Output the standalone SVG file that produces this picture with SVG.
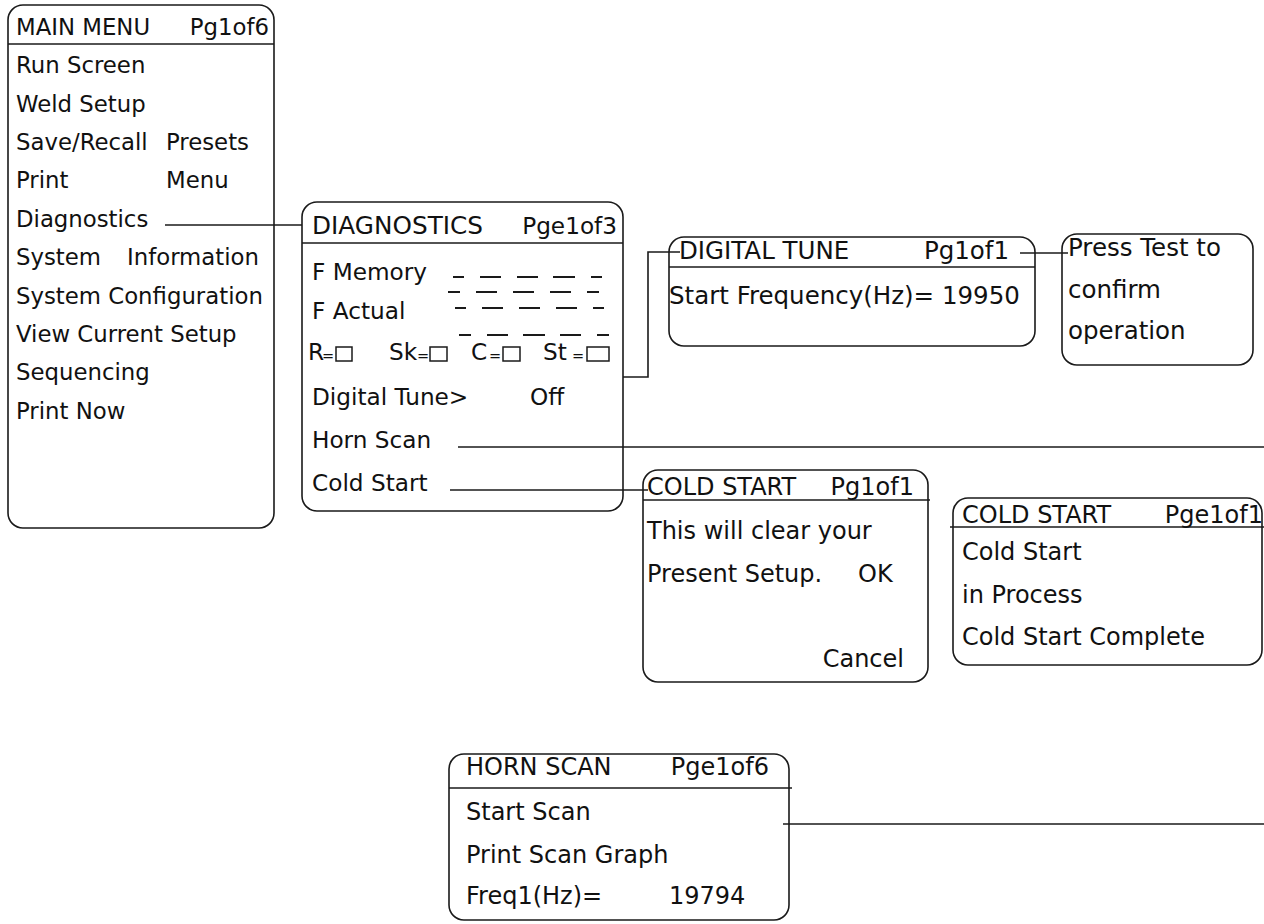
<svg xmlns="http://www.w3.org/2000/svg" width="1264" height="924" viewBox="0 0 1264 924">
<style>
.box{fill:none;stroke:#1a1a1a;stroke-width:1.6}
.sq{fill:none;stroke:#1a1a1a;stroke-width:1.5}
.sep{stroke:#1a1a1a;stroke-width:1.6}
.con{fill:none;stroke:#1a1a1a;stroke-width:1.6}
.dash{stroke:#1a1a1a;stroke-width:2}
text{font-family:"DejaVu Sans","Verdana",sans-serif;fill:#111}
.m{font-size:22.8px}
.d{font-size:23.2px}
.b{font-size:24px}
.dt{font-size:24.5px}
.eq{font-size:14.5px}
.r{text-anchor:end}
</style>
<rect width="1264" height="924" fill="#fff"/>
<g id="connectors">
<line class="con" x1="165" y1="225" x2="302" y2="225"/>
<polyline class="con" points="623,377 648,377 648,252 680,252"/>
<line class="con" x1="1020" y1="253" x2="1068" y2="253"/>
<line class="con" x1="458" y1="447" x2="1264" y2="447"/>
<line class="con" x1="450" y1="490" x2="648" y2="490"/>
<line class="con" x1="783" y1="824" x2="1264" y2="824"/>
</g>
<g id="main-menu">
<rect class="box" x="8" y="5" width="266" height="523" rx="15"/>
<line class="sep" x1="8" y1="44" x2="274" y2="44"/>
<text class="m" x="16" y="35">MAIN MENU</text>
<text class="m r" x="269" y="35">Pg1of6</text>
<text class="m" x="16" y="73.3">Run Screen</text>
<text class="m" x="16" y="111.7">Weld Setup</text>
<text class="m" x="16" y="150"><tspan>Save/Recall</tspan><tspan x="166">Presets</tspan></text>
<text class="m" x="16" y="188.4"><tspan>Print</tspan><tspan x="166">Menu</tspan></text>
<text class="m" x="16" y="226.8">Diagnostics</text>
<text class="m" x="16" y="265.2"><tspan>System</tspan><tspan x="127">Information</tspan></text>
<text class="m" x="16" y="303.6">System Configuration</text>
<text class="m" x="16" y="342">View Current Setup</text>
<text class="m" x="16" y="380.4">Sequencing</text>
<text class="m" x="16" y="418.8">Print Now</text>
</g>
<g id="diagnostics">
<rect class="box" x="302" y="202" width="321" height="309" rx="15"/>
<line class="sep" x1="302" y1="243" x2="623" y2="243"/>
<text class="b" x="312" y="234" textLength="171" lengthAdjust="spacingAndGlyphs">DIAGNOSTICS</text>
<text class="d r" x="617" y="234">Pge1of3</text>
<text class="d" x="312" y="280">F Memory</text>
<text class="d" x="312" y="319">F Actual</text>
<g>
<line class="dash" x1="453" y1="277" x2="464" y2="277"/>
<line class="dash" x1="480" y1="277" x2="501" y2="277"/>
<line class="dash" x1="517" y1="277" x2="538" y2="277"/>
<line class="dash" x1="553" y1="277" x2="575" y2="277"/>
<line class="dash" x1="591" y1="277" x2="602" y2="277"/>
<line class="dash" x1="448" y1="292" x2="460" y2="292"/>
<line class="dash" x1="476" y1="292" x2="497" y2="292"/>
<line class="dash" x1="513" y1="292" x2="534" y2="292"/>
<line class="dash" x1="550" y1="292" x2="571" y2="292"/>
<line class="dash" x1="587" y1="292" x2="599" y2="292"/>
<line class="dash" x1="455" y1="308" x2="466" y2="308"/>
<line class="dash" x1="482" y1="308" x2="503" y2="308"/>
<line class="dash" x1="519" y1="308" x2="540" y2="308"/>
<line class="dash" x1="556" y1="308" x2="577" y2="308"/>
<line class="dash" x1="593" y1="308" x2="604" y2="308"/>
<line class="dash" x1="459" y1="335" x2="471" y2="335"/>
<line class="dash" x1="487" y1="335" x2="508" y2="335"/>
<line class="dash" x1="523" y1="335" x2="545" y2="335"/>
<line class="dash" x1="560" y1="335" x2="581" y2="335"/>
<line class="dash" x1="597" y1="335" x2="609" y2="335"/>
</g>
<text class="d" x="308" y="359.5">R</text>
<text class="eq" x="322" y="360.5">=</text>
<rect class="sq" x="336" y="347" width="16" height="14"/>
<text class="d" x="389" y="359.5">Sk</text>
<text class="eq" x="417" y="360.5">=</text>
<rect class="sq" x="430" y="347" width="17" height="14"/>
<text class="d" x="471" y="359.5">C</text>
<text class="eq" x="489" y="360.5">=</text>
<rect class="sq" x="503" y="347" width="17" height="14"/>
<text class="d" x="543" y="359.5">St</text>
<text class="eq" x="572" y="360.5">=</text>
<rect class="sq" x="587" y="347" width="22" height="14"/>
<text class="d" x="312" y="405">Digital Tune&gt;</text>
<text class="d" x="530" y="405">Off</text>
<text class="d" x="312" y="448">Horn Scan</text>
<text class="d" x="312" y="491">Cold Start</text>
</g>
<g id="digital-tune">
<rect class="box" x="669" y="237" width="366" height="109" rx="15"/>
<line class="sep" x1="669" y1="267" x2="1035" y2="267"/>
<text class="dt" x="679" y="259">DIGITAL TUNE</text>
<text class="dt r" x="1009" y="259">Pg1of1</text>
<text class="dt" x="669" y="304">Start Frequency(Hz)= 19950</text>
</g>
<g id="press-test">
<rect class="box" x="1062" y="234" width="191" height="131" rx="15"/>
<text class="dt" x="1068" y="256">Press Test to</text>
<text class="dt" x="1068" y="298">confirm</text>
<text class="dt" x="1068" y="339">operation</text>
</g>
<g id="cold-start-confirm">
<rect class="box" x="643" y="470" width="285" height="212" rx="15"/>
<line class="sep" x1="643" y1="500" x2="930" y2="500"/>
<text class="b" x="647" y="495">COLD START</text>
<text class="b r" x="914" y="495">Pg1of1</text>
<text class="b" x="647" y="539">This will clear your</text>
<text class="b" x="647" y="582"><tspan>Present Setup.</tspan><tspan x="858">OK</tspan></text>
<text class="b r" x="904" y="667">Cancel</text>
</g>
<g id="cold-start-progress">
<rect class="box" x="953" y="498" width="309" height="167" rx="15"/>
<line class="sep" x1="950" y1="527" x2="1264" y2="527"/>
<text class="b" x="962" y="523">COLD START</text>
<text class="b r" x="1263" y="523">Pge1of1</text>
<text class="b" x="962" y="560">Cold Start</text>
<text class="b" x="962" y="603">in Process</text>
<text class="b" x="962" y="645">Cold Start Complete</text>
</g>
<g id="horn-scan">
<rect class="box" x="449" y="754" width="340" height="166" rx="15"/>
<line class="sep" x1="449" y1="788" x2="792" y2="788"/>
<text class="b" x="466" y="775">HORN SCAN</text>
<text class="b r" x="769" y="775">Pge1of6</text>
<text class="b" x="466" y="820">Start Scan</text>
<text class="b" x="466" y="863">Print Scan Graph</text>
<text class="b" x="466" y="904">Freq1(Hz)=</text>
<text class="b" x="669" y="904">19794</text>
</g>
</svg>
